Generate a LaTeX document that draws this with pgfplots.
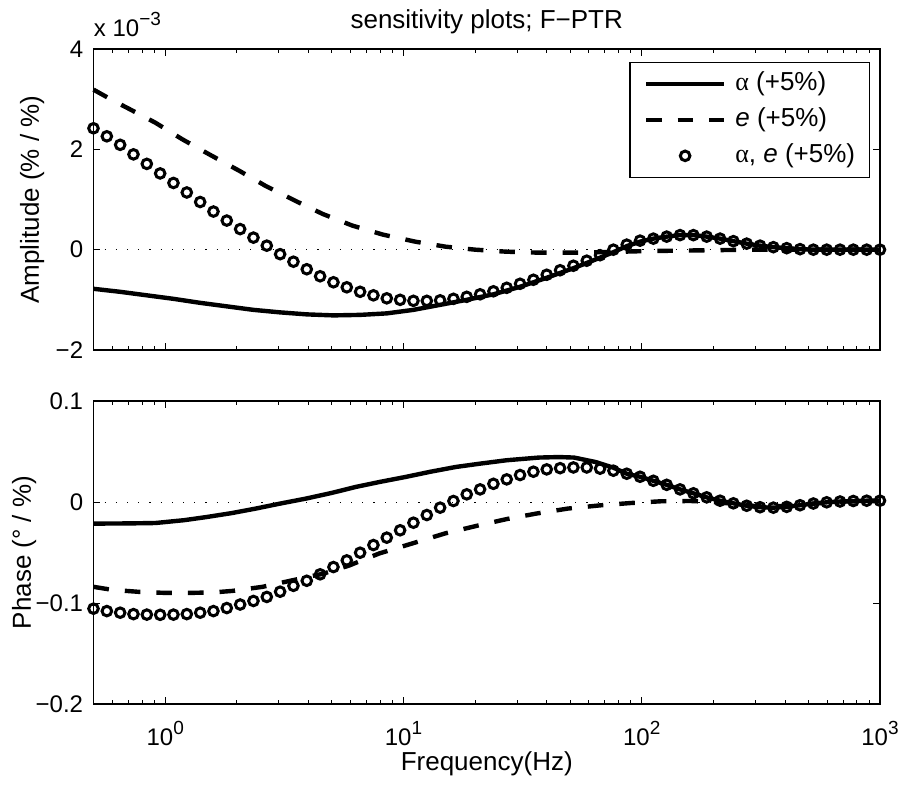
\documentclass[border=0pt]{standalone}
\usepackage{fontspec}
\setmainfont{Liberation Sans}
\newfontfamily\greekfont{Liberation Serif}
\usepackage{pgfplots}
\usepackage{pgfplotstable}
\pgfplotsset{compat=1.18}
\newcommand{\tf}{\fontsize{12}{14}\selectfont}
\newcommand{\lf}{\fontsize{13}{15}\selectfont}
\newcommand{\pw}[1]{10\raisebox{5.5pt}{\fontsize{9.5}{11}\selectfont #1}}

\pgfplotstableread{
f amp phase
0.5 2.42 -0.1056
0.5688 2.26 -0.1080
0.6470 2.09 -0.1096
0.7359 1.90 -0.1110
0.8371 1.71 -0.1115
0.9522 1.52 -0.1117
1.083 1.33 -0.1115
1.232 1.14 -0.1110
1.402 0.95 -0.1096
1.594 0.76 -0.1080
1.813 0.58 -0.1050
2.063 0.41 -0.1015
2.346 0.24 -0.0980
2.669 0.08 -0.0940
3.036 -0.09 -0.0888
3.453 -0.24 -0.0830
3.928 -0.39 -0.0780
4.468 -0.53 -0.0716
5.083 -0.65 -0.0644
5.782 -0.75 -0.0578
6.577 -0.84 -0.0502
7.481 -0.91 -0.0426
8.510 -0.97 -0.0353
9.680 -1.00 -0.0280
11.01 -1.02 -0.0205
12.53 -1.02 -0.0129
14.25 -1.01 -0.0056
16.21 -0.98 0.0010
18.43 -0.94 0.0076
20.97 -0.89 0.0125
23.85 -0.83 0.0180
27.13 -0.76 0.0224
30.86 -0.68 0.0267
35.11 -0.60 0.0300
39.93 -0.50 0.0323
45.43 -0.41 0.0335
51.67 -0.32 0.0342
58.78 -0.22 0.0342
66.86 -0.11 0.0330
76.05 0.00 0.0310
86.51 0.10 0.0280
98.40 0.18 0.0250
111.9 0.22 0.0210
127.3 0.26 0.0170
144.8 0.29 0.0125
164.8 0.29 0.0086
187.4 0.26 0.0046
213.2 0.22 0.0013
242.5 0.17 -0.0013
275.8 0.12 -0.0037
313.8 0.08 -0.0052
356.9 0.05 -0.0056
406.0 0.03 -0.0048
461.8 0.01 -0.0032
525.3 0.00 -0.0015
597.5 0.00 -0.0003
679.7 0.00 0.0005
773.1 0.00 0.0010
879.4 0.00 0.0013
1000 0.00 0.0013
}\circdata

\pgfplotsset{
  myaxis/.style={
    xmin=0.5, xmax=1000,
    width=393.25pt, scale only axis, clip=false,
    tick align=inside,
    xtick={1,10,100,1000},
    minor xtick={0.6,0.7,0.8,0.9,2,3,4,5,6,7,8,9,20,30,40,50,60,70,80,90,200,300,400,500,600,700,800,900},
    major tick length=3.5pt, minor tick length=2.2pt,
    axis line style={line width=0.6pt},
    every tick/.style={black, line width=0.5pt},
    ticklabel style={font=\tf},
    yticklabel style={anchor=east, inner sep=0pt, xshift=-5pt},
    xticklabel style={anchor=base, inner sep=0pt, yshift=-20.5pt},
    /pgf/number format/assume math mode=true,
    label style={font=\lf},
  },
  longline legend/.style={legend image code/.code={\draw[##1] (0pt,0pt) -- (39pt,0pt);}},
  centermark legend/.style={legend image code/.code={\draw[##1] plot coordinates {(19.5pt,0pt)};}},
  zline/.style={black, line width=0.5pt, dash pattern=on 0.6pt off 5pt, forget plot},
  sline/.style={black, line width=2.2pt},
  dline/.style={black, line width=2.2pt, dash pattern=on 7.8pt off 8pt},
  cmark/.style={black, only marks, mark=o, mark size=2.4pt, mark options={line width=1.5pt}},
}

\begin{document}
\begin{tikzpicture}
\begin{axis}[xmode=log, myaxis, at={(0,0)}, anchor=south west, height=150.5pt,
  ymin=-2, ymax=4, ytick={-2,0,2,4}, yticklabels={−2,0,2,4},
  xticklabels={},
  ylabel={Amplitude (\% / \%)},
  every axis y label/.style={at={(axis description cs:-0.0693,0.5)}, rotate=90, anchor=base, font=\lf},
  legend cell align=left,
  legend style={at={(rel axis cs:0.987,0.957)}, anchor=north east, draw=black, line width=0.6pt,
    font=\lf, row sep=5.5pt, column sep=4.5pt, inner xsep=7pt, inner ysep=4.4pt,
    nodes={inner sep=0pt, text height=9.5pt, text depth=3pt}},
]
\addplot[zline] coordinates {(0.5,0) (1000,0)};
\addplot[sline, longline legend] coordinates {
(0.5,-0.78) (0.647,-0.84) (0.837,-0.91) (1.083,-0.98) (1.402,-1.06) (1.813,-1.13)
(2.346,-1.20) (3.036,-1.25) (3.928,-1.29) (5.083,-1.31) (6.577,-1.30) (8.510,-1.27)
(11.01,-1.20) (14.25,-1.10) (18.43,-1.00) (23.85,-0.89) (30.86,-0.74) (39.93,-0.56)
(51.67,-0.37) (66.86,-0.16) (76.05,-0.05) (86.51,0.07) (98.40,0.16) (111.9,0.22)
(127.3,0.26) (144.8,0.29) (164.8,0.29) (187.4,0.26) (213.2,0.22) (242.5,0.17)
(275.8,0.12) (313.8,0.08) (356.9,0.05) (406.0,0.03) (461.8,0.01) (525.3,0.00) (1000,0.00)};
\addlegendentry{{\greekfont α} (+5\%)}
\addplot[dline, longline legend] coordinates {
(0.5,3.19) (0.6,2.98) (0.71,2.80) (0.91,2.53) (1.18,2.20) (1.53,1.90) (2.05,1.57)
(2.64,1.27) (3.53,0.97) (4.59,0.71) (6.1,0.48) (8.2,0.30) (11.2,0.16) (15,0.06)
(20,0.0) (27,-0.04) (37,-0.06) (50,-0.06) (70,-0.05) (100,-0.03) (140,-0.02)
(200,-0.01) (300,0) (1000,0)};
\addlegendentry{\textit{e} (+5\%)}
\addplot[cmark, centermark legend] table[x=f, y=amp] {\circdata};
\addlegendentry{{\greekfont α}, \textit{e} (+5\%)}
\node[anchor=base west, font=\tf, inner sep=0pt] at ([yshift=6.5pt]rel axis cs:0,1) {x \pw{−3}};
\node[anchor=base, font=\lf, inner sep=0pt] at ([yshift=10.5pt]rel axis cs:0.5,1) {sensitivity plots; F−PTR};
\end{axis}

\begin{axis}[xmode=log, myaxis, at={(0,-177pt)}, anchor=south west, height=151.5pt,
  ymin=-0.2, ymax=0.1, ytick={-0.2,-0.1,0,0.1}, yticklabels={−0.2,−0.1,0,0.1},
  xticklabels={\pw{0},\pw{1},\pw{2},\pw{3}},
  ylabel={Phase (° / \%)},
  every axis y label/.style={at={(axis description cs:-0.0795,0.5)}, rotate=90, anchor=base, font=\lf},
  xlabel={Frequency(Hz)},
  xlabel style={at={(axis description cs:0.5,0)}, anchor=base, yshift=-33pt},
]
\addplot[zline] coordinates {(0.5,0) (1000,0)};
\addplot[sline] coordinates {
(0.5,-0.0214) (0.7,-0.0212) (0.91,-0.0208) (1.2,-0.018) (1.49,-0.0149) (1.9,-0.011)
(2.4,-0.0065) (3.0,-0.0018) (3.9,0.0034) (5.0,0.009) (6.3,0.0149) (8.0,0.020)
(10.2,0.0248) (13,0.030) (16.6,0.0347) (21,0.038) (27,0.0413) (37,0.0440) (45,0.0445)
(52,0.0440) (64,0.0396) (76,0.034) (86.51,0.028) (98.40,0.025) (111.9,0.021)
(127.3,0.017) (144.8,0.0125) (164.8,0.0086) (187.4,0.0046) (213.2,0.0013)
(242.5,-0.0013) (275.8,-0.0037) (313.8,-0.0052) (356.9,-0.0056) (406.0,-0.0048)
(461.8,-0.0032) (525.3,-0.0015) (597.5,-0.0003) (679.7,0.0005) (773.1,0.001)
(879.4,0.0013) (1000,0.0013)};
\addplot[dline] coordinates {
(0.5,-0.084) (0.6,-0.087) (0.78,-0.089) (1.0,-0.090) (1.27,-0.090) (1.6,-0.0895)
(1.92,-0.088) (2.56,-0.084) (3.2,-0.079) (4.0,-0.074) (4.6,-0.071) (5.9,-0.063)
(7.9,-0.051) (10.9,-0.041) (15,-0.031) (20.8,-0.023) (27,-0.017) (36,-0.0115)
(49,-0.0065) (67,-0.0033) (90,-0.001) (120,0.0007) (160,0.001) (200,0.0)
(250,-0.002) (300,-0.004) (400,-0.004) (500,-0.002) (700,0.0005) (1000,0.001)};
\addplot[cmark] table[x=f, y=phase] {\circdata};
\end{axis}
\pgfresetboundingbox
\path[use as bounding box] (-46.75pt,-218.5pt) rectangle (403.25pt,175pt);
\end{tikzpicture}
\end{document}
